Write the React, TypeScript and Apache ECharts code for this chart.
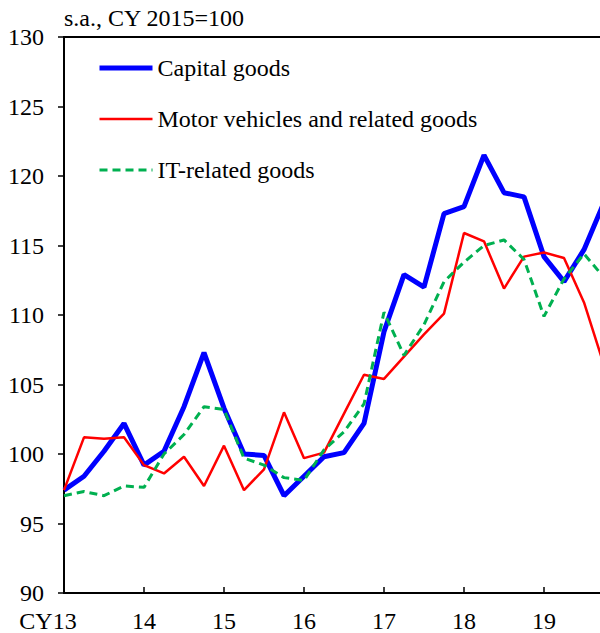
import React, { useEffect, useRef } from "react";
import * as echarts from "echarts";

const quarters: string[] = [
  "2013Q1", "2013Q2", "2013Q3", "2013Q4",
  "2014Q1", "2014Q2", "2014Q3", "2014Q4",
  "2015Q1", "2015Q2", "2015Q3", "2015Q4",
  "2016Q1", "2016Q2", "2016Q3", "2016Q4",
  "2017Q1", "2017Q2", "2017Q3", "2017Q4",
  "2018Q1", "2018Q2", "2018Q3", "2018Q4",
  "2019Q1", "2019Q2", "2019Q3", "2019Q4",
];

const yearLabels: string[] = ["CY13", "14", "15", "16", "17", "18", "19"];

const capitalGoods: number[] = [
  97.4, 98.4, 100.2, 102.2, 99.2, 100.2, 103.4, 107.3,
  103.3, 100.0, 99.9, 97.0, 98.4, 99.8, 100.1, 102.2,
  108.8, 112.9, 112.0, 117.3, 117.8, 121.5, 118.8, 118.5,
  114.2, 112.4, 114.7, 118.1,
];

const motorVehicles: number[] = [
  97.4, 101.2, 101.1, 101.2, 99.2, 98.6, 99.8, 97.7,
  100.6, 97.4, 98.9, 103.0, 99.7, 100.1, 102.9, 105.7,
  105.4, 107.0, 108.6, 110.1, 115.9, 115.3, 111.9, 114.2,
  114.5, 114.1, 110.9, 106.4,
];

const itRelated: number[] = [
  97.0, 97.3, 97.0, 97.7, 97.6, 100.0, 101.4, 103.4,
  103.2, 99.7, 99.2, 98.3, 98.1, 100.3, 101.6, 103.6,
  110.2, 107.1, 109.3, 112.4, 113.8, 115.0, 115.4, 114.0,
  109.9, 112.6, 114.4, 112.7,
];

const FONT = "'Liberation Serif', 'Times New Roman', serif";
const FS = 24;

export default function App() {
  const ref = useRef<HTMLDivElement>(null);

  useEffect(() => {
    if (!ref.current) return;
    const chart = echarts.init(ref.current, undefined, { renderer: "svg" });
    chart.setOption({
      animation: false,
      backgroundColor: "#fff",
      textStyle: { fontFamily: FONT },
      title: {
        text: "s.a., CY 2015=100",
        left: 64,
        top: 6,
        padding: [0, 0, 0, 0],
        textStyle: { fontFamily: FONT, fontSize: FS, fontWeight: "normal", color: "#000" },
      },
      legend: {
        orient: "vertical",
        left: 97,
        top: 54,
        padding: 0,
        itemWidth: 53,
        itemHeight: 14,
        itemGap: 23,
        itemStyle: { opacity: 0 },
        textStyle: { fontFamily: FONT, fontSize: FS, color: "#000", lineHeight: 28 },
        data: [
          { name: "Capital goods", lineStyle: { width: 5 } },
          { name: "Motor vehicles and related goods", lineStyle: { width: 2.5 } },
          { name: "IT-related goods", lineStyle: { width: 3, type: [8, 5] } },
        ],
      },
      grid: {
        left: 64,
        width: 540,
        top: 37,
        bottom: 40,
        outerBoundsMode: "none",
        containLabel: false,
        show: true,
        borderColor: "#000",
        borderWidth: 2,
        backgroundColor: "transparent",
      },
      xAxis: {
        type: "category",
        data: quarters,
        boundaryGap: false,
        axisLine: { lineStyle: { color: "#000", width: 2 } },
        axisTick: { inside: true, length: 6, interval: 3, lineStyle: { color: "#000", width: 1.5 } },
        axisLabel: {
          interval: 3,
          margin: 16,
          fontFamily: FONT,
          fontSize: FS,
          color: "#000",
          formatter: (_v: string, i: number) => {
            const lbl = yearLabels[Math.floor(i / 4)];
            return i === 0 ? "{first|" + lbl + "}" : lbl;
          },
          rich: {
            first: { fontFamily: FONT, fontSize: FS, color: "#000", padding: [0, 32, 0, 0] },
          },
        },
        splitLine: { show: false },
      },
      yAxis: {
        type: "value",
        min: 90,
        max: 130,
        interval: 5,
        axisLine: { show: true, lineStyle: { color: "#000", width: 2 } },
        axisTick: { show: true, inside: false, length: 6, lineStyle: { color: "#000", width: 1.5 } },
        axisLabel: { margin: 20, fontFamily: FONT, fontSize: FS, color: "#000" },
        splitLine: { show: false },
      },
      series: [
        {
          name: "Capital goods",
          type: "line",
          data: capitalGoods,
          symbol: "none",
          color: "#0000FF",
          lineStyle: { color: "#0000FF", width: 5 },
          z: 3,
        },
        {
          name: "Motor vehicles and related goods",
          type: "line",
          data: motorVehicles,
          symbol: "none",
          color: "#FF0000",
          lineStyle: { color: "#FF0000", width: 2.5 },
          z: 4,
        },
        {
          name: "IT-related goods",
          type: "line",
          data: itRelated,
          symbol: "none",
          color: "#00B050",
          lineStyle: { color: "#00B050", width: 3, type: [8, 5] },
          z: 5,
        },
      ],
    });
    return () => chart.dispose();
  }, []);

  return (
    <div
      ref={ref}
      style={{ position: "absolute", left: 0, top: 0, width: 600, height: 633, overflow: "hidden" }}
    />
  );
}
